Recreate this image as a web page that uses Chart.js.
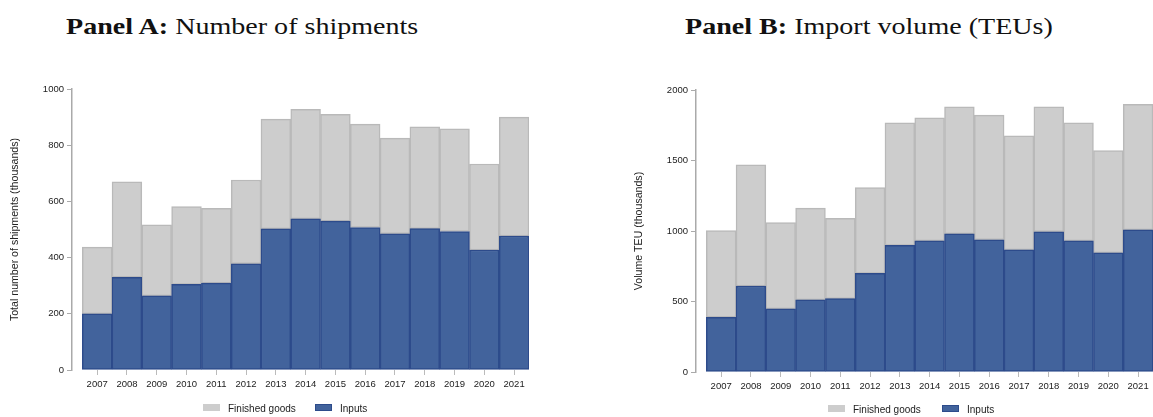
<!DOCTYPE html>
<html>
<head>
<meta charset="utf-8">
<title>Imports: shipments and volume</title>
<script src="https://cdn.jsdelivr.net/npm/chart.js@4.4.1/dist/chart.umd.min.js"></script>
<style>
  html, body { margin: 0; padding: 0; background: #fff; overflow: hidden; }
  body { position: relative; width: 1153px; height: 417px; }
  .panel-title {
    position: absolute; top: 14.5px;
    font-family: 'Liberation Serif', 'DejaVu Serif', serif;
    font-size: 23px; line-height: 1; color: #111; white-space: nowrap;
    transform: scaleX(1.22); transform-origin: left top;
  }
  .panel-title b { font-weight: bold; }
  canvas { position: absolute; top: 0; }
  .key {
    position: absolute; height: 7px; width: 17px; box-sizing: border-box;
  }
  .key-label {
    position: absolute; line-height: 1;
    font-family: 'Liberation Sans', Arial, sans-serif;
    font-size: 10px; color: #222; white-space: nowrap;
  }
</style>
</head>
<body>
  <div class="panel-title" style="left:66px"><b>Panel A:</b> Number of shipments</div>
  <div class="panel-title" style="left:685px"><b>Panel B:</b> Import volume (TEUs)</div>

  <canvas id="shipments" width="576" height="417" style="left:0"></canvas>
  <canvas id="volume" width="577" height="417" style="left:576px"></canvas>

  <div class="key" style="left:203px; top:404px; background:#cdcdcd;"></div>
  <div class="key-label" style="left:228px; top:403.5px;">Finished goods</div>
  <div class="key" style="left:315px; top:404px; background:#42639c; border:1px solid #2d4b8b;"></div>
  <div class="key-label" style="left:340px; top:403.5px;">Inputs</div>

  <div class="key" style="left:828px; top:405px; background:#cdcdcd;"></div>
  <div class="key-label" style="left:853px; top:404.5px;">Finished goods</div>
  <div class="key" style="left:942px; top:405px; background:#42639c; border:1px solid #2d4b8b;"></div>
  <div class="key-label" style="left:967px; top:404.5px;">Inputs</div>

<script>
  const years = [2007, 2008, 2009, 2010, 2011, 2012, 2013, 2014, 2015, 2016, 2017, 2018, 2019, 2020, 2021];

  // shipments, thousands
  const shipInputs   = [200, 330, 264, 305, 309, 378, 502, 538, 530, 507, 485, 503, 493, 427, 477];
  const shipFinished = [237, 340, 253, 277, 266, 298, 391, 390, 380, 368, 340, 362, 365, 306, 423];
  const shipTicks = [0, 200, 400, 600, 800, 1000];

  // TEUs, thousands
  const teuInputs   = [388, 610, 448, 512, 520, 700, 898, 930, 980, 938, 866, 995, 930, 845, 1008];
  const teuFinished = [615, 860, 612, 650, 570, 608, 870, 872, 900, 884, 809, 885, 838, 725, 890];
  const teuTicks = [0, 500, 1000, 1500, 2000];

  const blueFill = '#42639c';
  const blueEdge = '#2d4b8b';
  const greyFill = '#cdcdcd';
  const greyEdge = '#b9b9b9';
  const axisGrey = '#aaaaaa';
  const textColor = '#222222';

  Chart.defaults.font.family = "'Liberation Sans', Arial, sans-serif";

  function toPoints(values) {
    return years.map((yr, i) => ({ x: yr, y: values[i] }));
  }

  function barSet(label, values, fill, edge) {
    return {
      label: label,
      data: toPoints(values),
      backgroundColor: fill,
      borderColor: edge,
      borderWidth: 1.5,
      borderSkipped: false,
      barPercentage: 1,
      categoryPercentage: 1
    };
  }

  function buildPanel(canvasId, inputs, finished, ticks, yTitle, pad) {
    const ctx = document.getElementById(canvasId);
    return new Chart(ctx, {
      type: 'bar',
      data: {
        // inputs first so they sit at the bottom of each stack
        datasets: [
          barSet('Inputs', inputs, blueFill, blueEdge),
          barSet('Finished goods', finished, greyFill, greyEdge)
        ]
      },
      options: {
        responsive: false,
        animation: false,
        layout: { padding: pad },
        plugins: {
          legend: { display: false },
          tooltip: { enabled: false }
        },
        scales: {
          x: {
            type: 'linear',
            stacked: true,
            offset: false,
            min: years[0] - 0.845,
            max: years[years.length - 1] + 0.5,
            afterBuildTicks: scale => { scale.ticks = years.map(v => ({ value: v })); },
            afterFit: scale => { scale.height = 20; },
            grid: { offset: false, drawOnChartArea: false, tickLength: 5, color: '#bbbbbb' },
            border: { display: false },
            ticks: {
              padding: 4,
              autoSkip: false,
              maxRotation: 0,
              color: textColor,
              font: { size: 9.5 },
              callback: v => String(v)
            }
          },
          y: {
            stacked: true,
            min: ticks[0],
            max: ticks[ticks.length - 1],
            afterBuildTicks: scale => { scale.ticks = ticks.map(v => ({ value: v })); },
            afterFit: scale => { scale.width = 72; },
            grid: { drawOnChartArea: false, tickLength: 5, color: axisGrey },
            border: { display: true, color: axisGrey, width: 1.5 },
            ticks: {
              padding: 3,
              color: textColor,
              font: { size: 9.5 },
              callback: v => String(v)
            },
            title: {
              display: true,
              text: yTitle,
              color: textColor,
              font: { size: 10.6 },
              padding: { top: 9, bottom: 0 }
            }
          }
        }
      }
    });
  }

  buildPanel('shipments', shipInputs, shipFinished, shipTicks,
    'Total number of shipments (thousands)', { top: 89, right: 47, bottom: 27, left: 0 });
  buildPanel('volume', teuInputs, teuFinished, teuTicks,
    'Volume TEU (thousands)', { top: 90, right: 0, bottom: 25, left: 48 });
</script>
</body>
</html>
